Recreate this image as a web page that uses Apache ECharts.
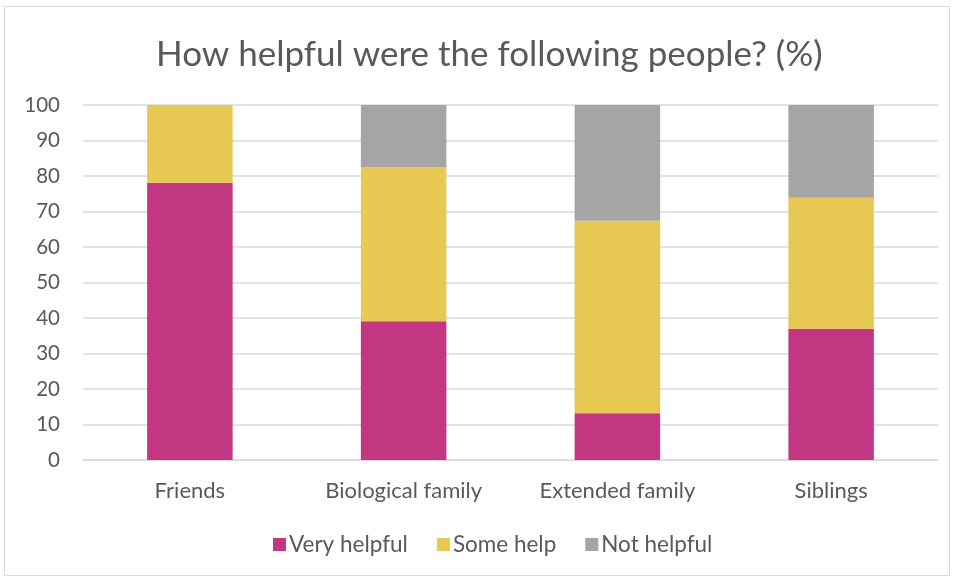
<!DOCTYPE html>
<html>
<head>
<meta charset="utf-8">
<script src="https://cdn.jsdelivr.net/npm/echarts@6/dist/echarts.min.js"></script>
<style>
  html, body { margin: 0; padding: 0; background: #fff; }
  #chart { width: 955px; height: 579px; }
</style>
</head>
<body>
<div id="chart"></div>
<script>
// Share of respondents rating each group's helpfulness (%)
const categories = ['Friends', 'Biological family', 'Extended family', 'Siblings'];
const veryHelpful = [78.1, 39.1, 13.2, 37.0];
const someHelp = [21.9, 43.4, 54.2, 36.9];
const notHelpful = [0, 17.5, 32.6, 26.1];
const yTicks = [0, 10, 20, 30, 40, 50, 60, 70, 80, 90, 100];

const FONT = 'Lato, "Open Sans", sans-serif';
const TEXT = '#595959';

const chart = echarts.init(document.getElementById('chart'));

function barSeries(name, data, color) {
  return {
    name: name,
    type: 'bar',
    stack: 'total',
    data: data,
    barWidth: '40%',
    itemStyle: { color: color },
    emphasis: { disabled: true }
  };
}

chart.setOption({
  animation: false,
  backgroundColor: '#fff',
  graphic: [{
    type: 'rect',
    shape: { x: 4.5, y: 6.5, width: 945, height: 569 },
    style: { fill: 'none', stroke: '#D9D9D9', lineWidth: 1 },
    silent: true
  }],
  title: {
    text: 'How helpful were the following people? (%)',
    left: 151,
    top: 32,
    textStyle: { fontFamily: FONT, fontSize: 35, fontWeight: 'normal', color: TEXT }
  },
  legend: {
    bottom: 18,
    left: 268,
    itemWidth: 13,
    itemHeight: 13,
    itemGap: 29,
    icon: 'rect',
    textStyle: { fontFamily: FONT, fontSize: 22.5, color: TEXT, padding: [0, 0, 0, -2] },
    data: ['Very helpful', 'Some help', 'Not helpful']
  },
  grid: { left: 83, right: 17, top: 105, bottom: 119 },
  xAxis: {
    type: 'category',
    data: categories,
    axisLine: { show: true, lineStyle: { color: '#D9D9D9' } },
    axisTick: { show: false },
    axisLabel: { fontFamily: FONT, fontSize: 22, color: TEXT, margin: 20 }
  },
  yAxis: {
    type: 'value',
    min: yTicks[0],
    max: yTicks[yTicks.length - 1],
    interval: yTicks[1] - yTicks[0],
    axisLine: { show: false },
    axisTick: { show: false },
    axisLabel: { fontFamily: FONT, fontSize: 20.5, color: TEXT, margin: 23 },
    splitLine: { lineStyle: { color: '#D9D9D9', width: 1.5 } }
  },
  series: [
    barSeries('Very helpful', veryHelpful, '#C33681'),
    barSeries('Some help', someHelp, '#E6C852'),
    barSeries('Not helpful', notHelpful, '#A5A5A5')
  ]
});
</script>
</body>
</html>
